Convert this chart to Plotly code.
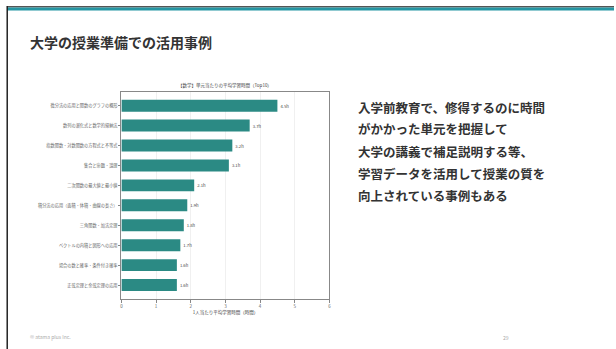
import plotly.graph_objects as go

# Ten units with the longest average study time per student (hours)
units = [
    "微分法の応用と関数のグラフの概形",
    "数列の漸化式と数学的帰納法",
    "指数関数・対数関数の方程式と不等式",
    "集合と命題・論理",
    "二次関数の最大値と最小値",
    "積分法の応用（面積・体積・曲線の長さ）",
    "三角関数・加法定理",
    "ベクトルの内積と図形への応用",
    "場合の数と確率・条件付き確率",
    "正弦定理と余弦定理の応用",
]
hours = [4.5, 3.7, 3.2, 3.1, 2.1, 1.9, 1.8, 1.7, 1.6, 1.6]
x_ticks = [0, 1, 2, 3, 4, 5, 6]

page_title = "大学の授業準備での活用事例"
chart_title = "【数学】単元当たりの平均学習時間（Top10）"
x_title = "1人当たり平均学習時間（時間）"
body_lines = [
    "入学前教育で、修得するのに時間",
    "がかかった単元を把握して",
    "大学の講義で補足説明する等、",
    "学習データを活用して授業の質を",
    "向上されている事例もある",
]
footer_left = "© atama plus Inc."
page_no = "29"

W, H = 616, 349
TEAL_BAR = "#2b8a84"
TEAL_RULE = "#2596a3"
INK = "#333333"
FONT = "Noto Sans CJK JP"


def px(x):
    return x / W


def py(y):
    return 1 - y / H


fig = go.Figure()
fig.add_trace(go.Bar(
    y=units,
    x=hours,
    orientation="h",
    marker=dict(color=TEAL_BAR, line=dict(width=0)),
    width=0.6,
    text=[f"{v:.1f}h" for v in hours],
    textposition="outside",
    textfont=dict(size=4.2, color="#444444", family=FONT),
    cliponaxis=False,
    hoverinfo="skip",
))

shapes = [
    # slide frame: thin grey line, teal band, dark left edge
    dict(type="rect", xref="paper", yref="paper", x0=px(6), x1=1, y0=py(6), y1=py(7.5),
         fillcolor="#555555", line=dict(width=0), layer="above"),
    dict(type="rect", xref="paper", yref="paper", x0=px(6), x1=1, y0=py(7.5), y1=py(10.5),
         fillcolor=TEAL_RULE, line=dict(width=0), layer="above"),
    dict(type="rect", xref="paper", yref="paper", x0=px(5.5), x1=px(7), y0=0, y1=py(6),
         fillcolor="#222222", line=dict(width=0), layer="above"),
]

annotations = [
    dict(text=f"<b>{page_title}</b>", x=px(27), y=py(42), xref="paper", yref="paper",
         xanchor="left", yanchor="middle", showarrow=False,
         font=dict(size=14, color=INK, family=FONT)),
    dict(text=chart_title, x=px(225), y=py(86), xref="paper", yref="paper",
         xanchor="center", yanchor="middle", showarrow=False,
         font=dict(size=4.5, color="#444444", family=FONT)),
    dict(text=footer_left, x=px(27), y=py(337), xref="paper", yref="paper",
         xanchor="left", yanchor="middle", showarrow=False,
         font=dict(size=5, color="#aaaaaa", family=FONT)),
    dict(text=page_no, x=px(507), y=py(337), xref="paper", yref="paper",
         xanchor="center", yanchor="middle", showarrow=False,
         font=dict(size=5, color="#aaaaaa", family=FONT)),
]
line_y0, line_step = 107, 22
for i, line in enumerate(body_lines):
    annotations.append(dict(
        text=f"<b>{line}</b>", x=px(357), y=py(line_y0 + i * line_step),
        xref="paper", yref="paper", xanchor="left", yanchor="middle",
        showarrow=False, font=dict(size=12.5, color=INK, family=FONT)))

fig.update_layout(
    width=W, height=H,
    margin=dict(l=0, r=0, t=0, b=0),
    paper_bgcolor="white", plot_bgcolor="white",
    showlegend=False,
    bargap=0.4,
    shapes=shapes,
    annotations=annotations,
    xaxis=dict(
        domain=[px(121), px(330)],
        range=[0, 6], tickvals=x_ticks,
        showgrid=True, gridcolor="#f0f0f0", gridwidth=1,
        zeroline=False,
        showline=True, linecolor="#888888", linewidth=1, mirror=True,
        ticks="outside", ticklen=3, tickcolor="#888888",
        tickfont=dict(size=4.5, color="#666666", family=FONT),
        title=dict(text=x_title, font=dict(size=4.5, color="#444444", family=FONT), standoff=2),
        fixedrange=True,
    ),
    yaxis=dict(
        domain=[py(299), py(91.7)],
        autorange=False,
        range=[9.7, -0.7],
        showgrid=False, zeroline=False,
        showline=True, linecolor="#888888", linewidth=1, mirror=True,
        ticks="outside", ticklen=2, tickcolor="#888888",
        tickfont=dict(size=4.2, color="#666666", family=FONT),
        fixedrange=True,
    ),
)

fig.write_html("out.html")
